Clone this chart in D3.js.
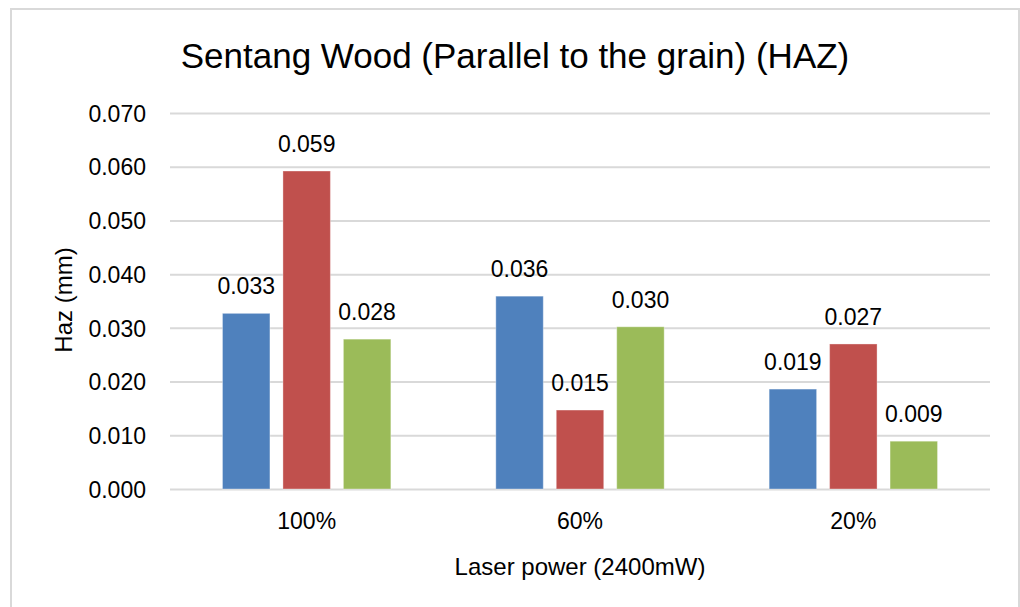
<!DOCTYPE html>
<html>
<head>
<meta charset="utf-8">
<script src="https://cdn.jsdelivr.net/npm/d3@7"></script>
<style>
  body { margin: 0; background: #fff; }
  text { font-family: "Liberation Sans", Arial, sans-serif; fill: #000; }
</style>
</head>
<body>
<div id="chart" style="width:1020px;height:607px;"></div>
<script>
const categories = ["100%", "60%", "20%"];
const seriesNames = ["Series 1", "Series 2", "Series 3"];
const series1 = [0.0327, 0.0359, 0.0186];
const series2 = [0.0592, 0.0147, 0.0270];
const series3 = [0.0279, 0.0302, 0.0089];
const yTicks = [0, 0.01, 0.02, 0.03, 0.04, 0.05, 0.06, 0.07];
const colors = ["#4F81BD", "#C0504D", "#9BBB59"];

const allSeries = [series1, series2, series3];
const data = [];
categories.forEach((c, i) => {
    allSeries.forEach((s, j) => {
        data.push({category: c, series: seriesNames[j], value: s[i]});
    });
});

function renderChart(selector) {
    const W = 1020, H = 607;
    const margin = {top: 113, right: 30, bottom: 118, left: 170};
    const width = W - margin.left - margin.right;
    const height = H - margin.top - margin.bottom;

    const root = d3.select(selector).append("svg")
        .attr("width", W)
        .attr("height", H);

    // chart border
    root.append("rect")
        .attr("x", 11).attr("y", 9)
        .attr("width", 1008).attr("height", 620)
        .attr("fill", "#fff")
        .attr("stroke", "#d9d9d9")
        .attr("stroke-width", 2);

    root.append("text")
        .attr("x", 515)
        .attr("y", 68)
        .attr("text-anchor", "middle")
        .style("font-size", "35px")
        .text("Sentang Wood (Parallel to the grain) (HAZ)");

    const svg = root.append("g")
        .attr("transform", `translate(${margin.left}, ${margin.top})`);

    const x0 = d3.scaleBand()
        .domain(categories)
        .range([0, width])
        .paddingInner(0)
        .paddingOuter(0);

    const groupWidth = x0.bandwidth() * 0.616;
    const x1 = d3.scaleBand()
        .domain(seriesNames)
        .range([(x0.bandwidth() - groupWidth) / 2, (x0.bandwidth() + groupWidth) / 2])
        .paddingInner(0.215)
        .paddingOuter(0);

    const y = d3.scaleLinear()
        .domain([0, 0.07])
        .range([height, 0]);

    const color = d3.scaleOrdinal().domain(seriesNames).range(colors);

    // gridlines
    svg.append("g")
        .attr("class", "grid")
        .call(d3.axisLeft(y).tickValues(yTicks).tickSize(-width).tickFormat(""))
        .call(g => g.select(".domain").remove())
        .selectAll("line")
        .attr("stroke", "#d9d9d9")
        .attr("stroke-width", 2);

    // y axis labels
    svg.append("g")
        .call(d3.axisLeft(y).tickValues(yTicks).tickSize(0).tickPadding(24).tickFormat(d3.format(".3f")))
        .call(g => g.select(".domain").remove())
        .selectAll("text")
        .style("font-size", "23px")
        .attr("dy", "0.36em");

    // x axis labels
    svg.append("g")
        .attr("transform", `translate(0, ${height})`)
        .call(d3.axisBottom(x0).tickSize(0).tickPadding(24))
        .call(g => g.select(".domain").remove())
        .selectAll("text")
        .style("font-size", "23px");

    const bars = svg.selectAll(".bar")
        .data(data)
        .enter()
        .append("g")
        .attr("class", "bar")
        .attr("transform", d => `translate(${x0(d.category)}, 0)`);

    bars.append("rect")
        .attr("x", d => x1(d.series))
        .attr("y", d => y(d.value))
        .attr("width", x1.bandwidth())
        .attr("height", d => height - y(d.value))
        .attr("fill", d => color(d.series))
        .attr("stroke", "#fff")
        .attr("stroke-opacity", 0.35)
        .attr("stroke-width", 1);

    bars.append("text")
        .attr("x", d => x1(d.series) + x1.bandwidth() / 2)
        .attr("y", d => y(d.value) - 19)
        .attr("text-anchor", "middle")
        .style("font-size", "23px")
        .text(d => d3.format(".3f")(d.value));

    root.append("text")
        .attr("transform", "translate(72, 300) rotate(-90)")
        .attr("text-anchor", "middle")
        .style("font-size", "24px")
        .text("Haz (mm)");

    root.append("text")
        .attr("x", margin.left + width / 2)
        .attr("y", 575)
        .attr("text-anchor", "middle")
        .style("font-size", "24px")
        .text("Laser power (2400mW)");
}

renderChart("#chart");
</script>
</body>
</html>
